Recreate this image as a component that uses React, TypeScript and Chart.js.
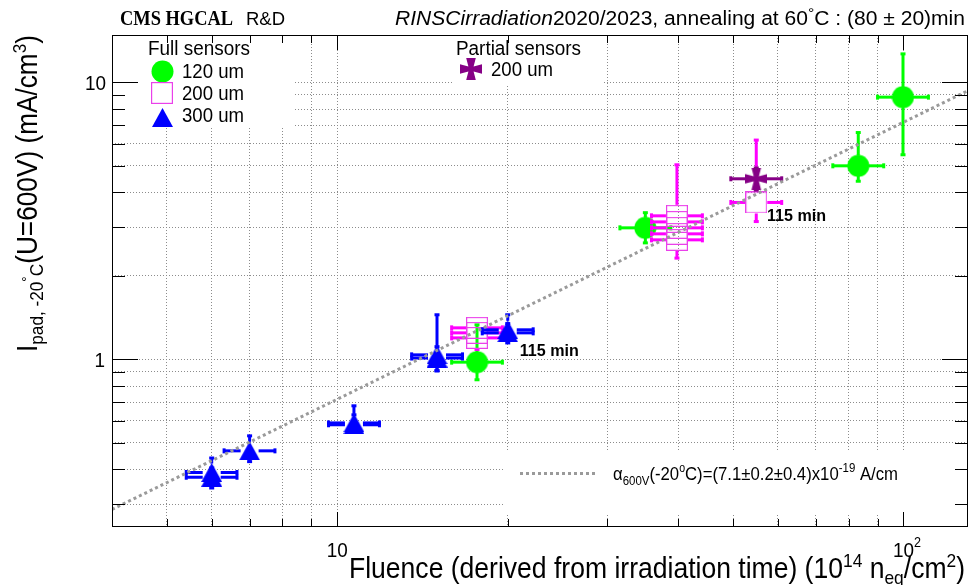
import React, { useEffect, useRef } from "react";
import { Chart, registerables } from "chart.js";
Chart.register(...registerables);

// ---------------- data ----------------
const xRange = [4, 130];
const yRange = [0.248, 14.8];
const xGridValues = [5, 6, 7, 8, 9, 10, 20, 30, 40, 50, 60, 70, 80, 90, 100];
const yGridValues = [0.3, 0.4, 0.5, 0.6, 0.7, 0.8, 0.9, 1, 2, 3, 4, 5, 6, 7, 8, 9, 10];
const xMajorValues = [10, 100];
const yMajorValues = [1, 10];

// Full sensors, 120 um
const f120Fluence = [17.65, 35.0, 83.2, 99.8];
const f120FluenceErrLo = [1.73, 3.44, 8.18, 9.81];
const f120FluenceErrHi = [1.92, 3.82, 9.07, 10.88];
const f120Current = [0.976, 2.98, 4.99, 8.83];
const f120CurrentErrLo = [0.133, 0.35, 0.6, 3.36];
const f120CurrentErrHi = [0.355, 0.4, 1.59, 3.82];

// Full sensors, 200 um
const f200Fluence = [17.65, 17.65, 17.65, 39.8, 39.8, 39.8, 39.8, 39.8, 54.95];
const f200FluenceErrLo = [1.73, 1.73, 1.73, 3.91, 3.91, 3.91, 3.91, 3.91, 5.4];
const f200FluenceErrHi = [1.92, 1.92, 1.92, 4.34, 4.34, 4.34, 4.34, 4.34, 5.99];
const f200Current = [1.298, 1.245, 1.194, 3.293, 3.131, 2.98, 2.835, 2.697, 3.68];
const f200CurrentErrLo = [0.05, 0.05, 0.11, 0.15, 0.15, 0.15, 0.15, 0.38, 0.54];
const f200CurrentErrHi = [0.06, 0.05, 0.05, 1.74, 0.15, 0.15, 0.15, 0.15, 2.5];

// Full sensors, 300 um
const f300Fluence = [6.0, 6.0, 7.0, 10.7, 10.7, 15.0, 15.0, 20.0, 20.0];
const f300FluenceErrLo = [0.59, 0.59, 0.69, 1.05, 1.05, 1.47, 1.47, 1.97, 1.97];
const f300FluenceErrHi = [0.65, 0.65, 0.76, 1.17, 1.17, 1.64, 1.64, 2.18, 2.18];
const f300Current = [0.39, 0.375, 0.467, 0.589, 0.58, 1.037, 1.01, 1.277, 1.245];
const f300CurrentErrLo = [0.03, 0.032, 0.04, 0.045, 0.04, 0.13, 0.1, 0.1, 0.1];
const f300CurrentErrHi = [0.05, 0.03, 0.062, 0.09, 0.05, 0.41, 0.1, 0.17, 0.1];

// Partial sensors, 200 um
const p200Fluence = [54.95];
const p200FluenceErrLo = [5.4];
const p200FluenceErrHi = [5.99];
const p200Current = [4.48];
const p200CurrentErrLo = [0.4];
const p200CurrentErrHi = [0.42];

// linear fit (alpha)
const fitFluence = [4, 130];
const fitCurrent = [0.287, 9.32];

// annotations
const annotText = ["115 min", "115 min"];
const annotFluence = [21.0, 57.4];
const annotCurrent = [1.08, 3.32];

// ---------------- style ----------------
const GREEN = "#00ff00";
const BLUE = "#0000ff";
const MAGENTA = "#ff00ff";
const SQUARE_EDGE = "#ea40ea";
const PURPLE = "#860086";
const FIT_GRAY = "#9a9a9a";
const SANS = '"Liberation Sans", Arial, Helvetica, sans-serif';
const SERIF = '"Liberation Serif", "Times New Roman", serif';

function markerCanvas(kind: string): HTMLCanvasElement {
  const c = document.createElement("canvas");
  if (kind === "circle") {
    c.width = 23; c.height = 23;
    const g = c.getContext("2d")!;
    g.fillStyle = GREEN;
    g.beginPath(); g.arc(11.5, 11.5, 11, 0, Math.PI * 2); g.fill();
  } else if (kind === "square") {
    c.width = 22; c.height = 22;
    const g = c.getContext("2d")!;
    g.strokeStyle = SQUARE_EDGE; g.lineWidth = 1.2;
    g.strokeRect(0.6, 0.6, 20.8, 20.8);
  } else if (kind === "triangle") {
    c.width = 21; c.height = 19;
    const g = c.getContext("2d")!;
    g.fillStyle = BLUE;
    g.beginPath(); g.moveTo(10.5, 0); g.lineTo(21, 19); g.lineTo(0, 19); g.closePath(); g.fill();
  } else {
    c.width = 22; c.height = 22;
    const g = c.getContext("2d")!;
    const m = 11, a = 2.6, b = 4.8, e = 22;
    g.fillStyle = PURPLE;
    g.beginPath();
    g.moveTo(m - a, m - a); g.lineTo(m - b, 0); g.lineTo(m + b, 0); g.lineTo(m + a, m - a);
    g.lineTo(e, m - b); g.lineTo(e, m + b); g.lineTo(m + a, m + a);
    g.lineTo(m + b, e); g.lineTo(m - b, e); g.lineTo(m - a, m + a);
    g.lineTo(0, m + b); g.lineTo(0, m - b); g.closePath(); g.fill();
  }
  return c;
}

type Seg = { t: string; px: number; dy?: number; style?: string; family?: string };
function fontOf(s: Seg) {
  return `${s.style ?? ""} ${s.px}px ${s.family ?? SANS}`.trim();
}
function drawRich(ctx: CanvasRenderingContext2D, segs: Seg[], x: number, y: number, opts: { width?: number; sx?: number; align?: string } = {}) {
  let nat = 0;
  for (const s of segs) { ctx.font = fontOf(s); nat += ctx.measureText(s.t).width; }
  const sx = opts.width ? opts.width / nat : (opts.sx ?? 1);
  const total = nat * sx;
  const align = opts.align ?? "left";
  const x0 = align === "left" ? x : align === "center" ? x - total / 2 : x - total;
  ctx.save();
  ctx.translate(x0, y);
  ctx.scale(sx, 1);
  ctx.textAlign = "left";
  ctx.textBaseline = "alphabetic";
  ctx.fillStyle = "#000";
  let cx = 0;
  for (const s of segs) {
    ctx.font = fontOf(s);
    ctx.fillText(s.t, cx, s.dy ?? 0);
    cx += ctx.measureText(s.t).width;
  }
  ctx.restore();
}

function toPoints(xs: number[], ys: number[]) {
  return xs.map((x, i) => ({ x, y: ys[i] }));
}

export default function App() {
  const ref = useRef<HTMLCanvasElement | null>(null);

  useEffect(() => {
    const canvas = ref.current;
    if (!canvas) return;
    const mCircle = markerCanvas("circle");
    const mSquare = markerCanvas("square");
    const mTri = markerCanvas("triangle");
    const mCross = markerCanvas("cross");

    const errorPlugin = {
      id: "errorBars",
      beforeDatasetsDraw(chart: any) {
        const ctx = chart.ctx as CanvasRenderingContext2D;
        ctx.save();
        ctx.fillStyle = "#fff";
        // legend boxes (cover grid)
        ctx.fillRect(113, 36, 180, 92);
        ctx.fillRect(453, 36, 150, 49);
        ctx.fillRect(505, 452, 462, 62);
        ctx.restore();
      },
      beforeDatasetDraw(chart: any, args: any) {
        const ds = chart.data.datasets[args.index];
        const eb = ds.errorBars;
        if (!eb) return;
        const ctx = chart.ctx as CanvasRenderingContext2D;
        const xs = chart.scales.x, ys = chart.scales.y;
        ctx.save();
        ctx.strokeStyle = eb.color;
        ctx.lineWidth = 3;
        ctx.lineCap = "butt";
        const seg = (x1: number, y1: number, x2: number, y2: number) => {
          ctx.beginPath(); ctx.moveTo(x1, y1); ctx.lineTo(x2, y2); ctx.stroke();
        };
        eb.fx.forEach((fx: number, i: number) => {
          const cy = eb.cy[i];
          const px = xs.getPixelForValue(fx), py = ys.getPixelForValue(cy);
          const l = xs.getPixelForValue(fx - eb.xLo[i]);
          const r = xs.getPixelForValue(fx + eb.xHi[i]);
          const t = ys.getPixelForValue(cy + eb.yHi[i]);
          const b = ys.getPixelForValue(cy - eb.yLo[i]);
          const g = eb.gap;
          if (px - g > l) { seg(l, py, px - g, py); seg(l, py - 2.5, l, py + 2.5); }
          if (px + g < r) { seg(px + g, py, r, py); seg(r, py - 2.5, r, py + 2.5); }
          if (py - g > t) { seg(px, t, px, py - g); seg(px - 2.5, t, px + 2.5, t); }
          if (py + g < b) { seg(px, py + g, px, b); seg(px - 2.5, b, px + 2.5, b); }
        });
        ctx.restore();
      },
      afterDraw(chart: any) {
        const ctx = chart.ctx as CanvasRenderingContext2D;
        const xs = chart.scales.x, ys = chart.scales.y;
        const A = chart.chartArea;
        ctx.save();
        // ticks
        ctx.strokeStyle = "#000";
        ctx.lineWidth = 1;
        ctx.beginPath();
        xGridValues.forEach((v) => {
          const p = Math.round(xs.getPixelForValue(v)) + 0.5;
          const len = xMajorValues.includes(v) ? 15 : 8;
          ctx.moveTo(p, A.bottom); ctx.lineTo(p, A.bottom - len);
          ctx.moveTo(p, A.top); ctx.lineTo(p, A.top + len);
        });
        yGridValues.forEach((v) => {
          const p = Math.round(ys.getPixelForValue(v)) + 0.5;
          const len = yMajorValues.includes(v) ? 26 : 13;
          ctx.moveTo(A.left, p); ctx.lineTo(A.left + len, p);
          ctx.moveTo(A.right, p); ctx.lineTo(A.right - len, p);
        });
        ctx.stroke();
        // frame
        ctx.strokeRect(A.left + 0.5, A.top + 0.5, A.right - A.left - 1, A.bottom - A.top - 1);

        // tick labels
        const y10 = ys.getPixelForValue(10), y1 = ys.getPixelForValue(1);
        drawRich(ctx, [{ t: "10", px: 21 }], 106, y10 + 8, { sx: 0.9, align: "right" });
        drawRich(ctx, [{ t: "1", px: 21 }], 105, y1 + 8, { sx: 0.9, align: "right" });
        const x10 = xs.getPixelForValue(10), x100 = xs.getPixelForValue(100);
        drawRich(ctx, [{ t: "10", px: 21 }], x10, 557, { sx: 0.9, align: "center" });
        ctx.font = `21px ${SANS}`;
        const w10 = ctx.measureText("10").width * 0.9;
        drawRich(ctx, [{ t: "10", px: 21 }, { t: "2", px: 14, dy: -10 }], x100 - w10 / 2, 557, { sx: 0.9 });

        // axis titles
        drawRich(ctx, [
          { t: "Fluence (derived from irradiation time) (10", px: 29 },
          { t: "14", px: 19, dy: -11 },
          { t: " n", px: 29 },
          { t: "eq", px: 19, dy: 6 },
          { t: "/cm", px: 29 },
          { t: "2", px: 19, dy: -11 },
          { t: ")", px: 29 },
        ], 349, 578, { width: 616 });

        ctx.save();
        ctx.translate(37, 352);
        ctx.rotate(-Math.PI / 2);
        drawRich(ctx, [
          { t: "I", px: 29 },
          { t: "pad, -20", px: 19, dy: 6 },
          { t: "°", px: 15, dy: -5 },
          { t: "C", px: 19, dy: 6 },
          { t: "(U=600V) (mA/cm", px: 29 },
          { t: "3", px: 19, dy: -11 },
          { t: ")", px: 29 },
        ], 0, 0, { width: 317 });
        ctx.restore();

        // header
        drawRich(ctx, [{ t: "CMS HGCAL", px: 20, style: "bold", family: SERIF }], 120, 25, { width: 113 });
        drawRich(ctx, [{ t: "R&D", px: 18 }], 246, 25, { width: 39 });
        drawRich(ctx, [
          { t: "RINSCirradiation", px: 20, style: "italic" },
          { t: "2020/2023, annealing at 60", px: 20 },
          { t: "°", px: 15, dy: -7 },
          { t: "C : (80 ± 20)min", px: 20 },
        ], 395, 25, { width: 570 });

        // legends
        drawRich(ctx, [{ t: "Full sensors", px: 20 }], 148, 55, { width: 102 });
        const img = (c: HTMLCanvasElement, x: number, y: number) =>
          ctx.drawImage(c, Math.round(x - c.width / 2), Math.round(y - c.height / 2));
        img(mCircle, 162, 71);
        img(mSquare, 162, 93);
        img(mTri, 162, 117);
        drawRich(ctx, [{ t: "120 um", px: 20 }], 182, 78, { width: 62 });
        drawRich(ctx, [{ t: "200 um", px: 20 }], 182, 100, { width: 62 });
        drawRich(ctx, [{ t: "300 um", px: 20 }], 182, 122, { width: 62 });
        drawRich(ctx, [{ t: "Partial sensors", px: 20 }], 456, 55, { width: 125 });
        img(mCross, 471, 69);
        drawRich(ctx, [{ t: "200 um", px: 20 }], 491, 76, { width: 62 });

        // fit legend
        ctx.save();
        ctx.strokeStyle = FIT_GRAY;
        ctx.lineWidth = 3;
        ctx.setLineDash([3, 3]);
        ctx.beginPath(); ctx.moveTo(520, 473.5); ctx.lineTo(597, 473.5); ctx.stroke();
        ctx.restore();
        drawRich(ctx, [
          { t: "α", px: 19 },
          { t: "600V", px: 13, dy: 5 },
          { t: "(-20", px: 19 },
          { t: "o", px: 12, dy: -8 },
          { t: "C)=(7.1±0.2±0.4)x10", px: 19 },
          { t: "-19", px: 13, dy: -8 },
          { t: " A/cm", px: 19 },
        ], 613, 480, { width: 285 });

        // annotations
        annotText.forEach((t, i) => {
          const ax = xs.getPixelForValue(annotFluence[i]);
          const ay = ys.getPixelForValue(annotCurrent[i]);
          drawRich(ctx, [{ t, px: 17, style: "bold" }], ax, ay + 6, { width: 59 });
        });
        ctx.restore();
      },
    };

    const mk = (label: string, fx: number[], cy: number[], xLo: number[], xHi: number[], yLo: number[], yHi: number[], color: string, style: HTMLCanvasElement, order: number, gap: number) => ({
      label,
      data: toPoints(fx, cy),
      pointStyle: style,
      pointRadius: 10,
      pointHoverRadius: 10,
      showLine: false,
      order,
      errorBars: { fx, cy, xLo, xHi, yLo, yHi, color, gap },
    });

    const chart = new Chart(canvas, {
      type: "scatter",
      data: {
        datasets: [
          {
            label: "fit",
            data: toPoints(fitFluence, fitCurrent),
            showLine: true,
            borderColor: FIT_GRAY,
            borderWidth: 3,
            borderDash: [3, 3],
            pointRadius: 0,
            fill: false,
            order: 0,
          } as any,
          mk("120 um", f120Fluence, f120Current, f120FluenceErrLo, f120FluenceErrHi, f120CurrentErrLo, f120CurrentErrHi, GREEN, mCircle, 4, 10),
          mk("200 um", f200Fluence, f200Current, f200FluenceErrLo, f200FluenceErrHi, f200CurrentErrLo, f200CurrentErrHi, MAGENTA, mSquare, 3, 11),
          mk("300 um", f300Fluence, f300Current, f300FluenceErrLo, f300FluenceErrHi, f300CurrentErrLo, f300CurrentErrHi, BLUE, mTri, 2, 9),
          mk("Partial 200 um", p200Fluence, p200Current, p200FluenceErrLo, p200FluenceErrHi, p200CurrentErrLo, p200CurrentErrHi, PURPLE, mCross, 1, 10),
        ],
      },
      options: {
        animation: false,
        responsive: false,
        events: [],
        layout: { autoPadding: false, padding: { left: 112, top: 35, right: 1, bottom: 58 } },
        plugins: { legend: { display: false }, tooltip: { enabled: false }, title: { display: false } },
        scales: {
          x: {
            type: "logarithmic",
            min: xRange[0],
            max: xRange[1],
            afterBuildTicks: (s: any) => { s.ticks = xGridValues.map((v) => ({ value: v })); },
            ticks: { display: false },
            grid: { drawTicks: false, color: "#8c8c8c", lineWidth: 1 },
            border: { display: false, dash: [1, 2] },
          },
          y: {
            type: "logarithmic",
            min: yRange[0],
            max: yRange[1],
            afterBuildTicks: (s: any) => { s.ticks = yGridValues.map((v) => ({ value: v })); },
            ticks: { display: false },
            grid: { drawTicks: false, color: "#8c8c8c", lineWidth: 1 },
            border: { display: false, dash: [1, 2] },
          },
        },
      } as any,
      plugins: [errorPlugin as any],
    });
    return () => chart.destroy();
  }, []);

  return (
    <div style={{ position: "fixed", left: 0, top: 0, width: 969, height: 585, background: "#fff" }}>
      <canvas ref={ref} width={969} height={585} style={{ display: "block", width: 969, height: 585 }} />
    </div>
  );
}
